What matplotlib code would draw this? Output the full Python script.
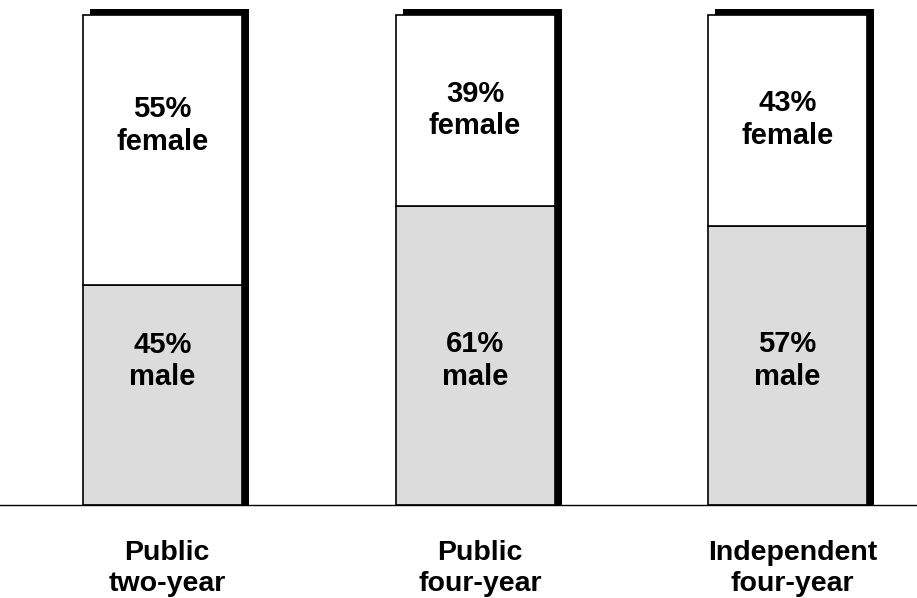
import matplotlib
matplotlib.use('Agg')
import matplotlib.pyplot as plt
import matplotlib.transforms as mtransforms
import numpy as np

# data
categories = ['Public\ntwo-year', 'Public\nfour-year', 'Independent\nfour-year']
male_pct = [45, 61, 57]
female_pct = [55, 39, 43]

# where the labels sit (percent of bar height)
female_label_y = [77.4, 80.6, 78.6]
male_label_y = [29.4, 29.5, 29.5]

plt.rcParams['font.family'] = ['Liberation Sans', 'DejaVu Sans']
W, H, DPI = 917, 598, 100
fig = plt.figure(figsize=(W / DPI, H / DPI), dpi=DPI)
ax = fig.add_axes([0, 93 / H, 1, 490 / H])
ax.set_xlim(-0.52, 2.414)
ax.set_ylim(0, 100)
ax.axis('off')

x = np.arange(len(categories))
width = 0.509
male = np.array(male_pct)
female = np.array(female_pct)
total = male + female

# drop shadow: shifted right, extended up
shadow_dx = 7 / DPI
shadow_dy = 6 / 490 * 100
shadow_tr = ax.transData + mtransforms.ScaledTranslation(shadow_dx, 0, fig.dpi_scale_trans)
ax.bar(x, total + shadow_dy, width, bottom=0, color='black', edgecolor='none',
       transform=shadow_tr, clip_on=False, zorder=1)

ax.bar(x, male, width, color='#dcdcdc', edgecolor='black', linewidth=1.2, zorder=2,
       clip_on=False)
ax.bar(x, female, width, bottom=male, color='white', edgecolor='black', linewidth=1.2,
       zorder=2, clip_on=False)

ax.axhline(0, color='black', lw=1.0, zorder=3, clip_on=False)

for i in range(len(categories)):
    ax.text(x[i], female_label_y[i], '{}%\nfemale'.format(female_pct[i]), ha='center',
            va='center', fontsize=21, fontweight='bold', linespacing=1.22, zorder=4)
    ax.text(x[i], male_label_y[i], '{}%\nmale'.format(male_pct[i]), ha='center',
            va='center', fontsize=21, fontweight='bold', linespacing=1.22, zorder=4)
    ax.text(x[i] + 0.015, -13.0, categories[i], ha='center', va='center', fontsize=20.5,
            fontweight='bold', linespacing=1.25, clip_on=False)

fig.savefig('out.png', dpi=DPI)
